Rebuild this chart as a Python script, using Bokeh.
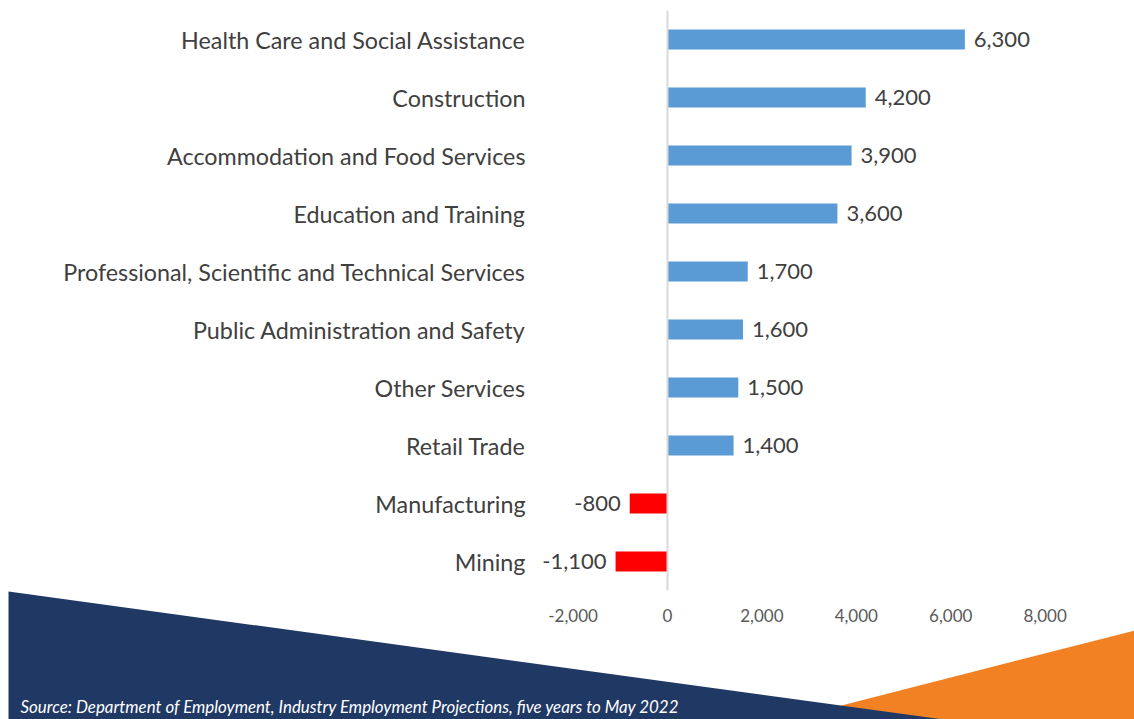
from bokeh.plotting import figure
from bokeh.models import (ColumnDataSource, Range1d, LinearAxis, FixedTicker,
                          NumeralTickFormatter, Label)
from bokeh.core.properties import value
from bokeh.embed import file_html
from bokeh.resources import INLINE

# ---- data (bottom to top) ----
categories = [
    "Mining",
    "Manufacturing",
    "Retail Trade",
    "Other Services",
    "Public Administration and Safety",
    "Professional, Scientific and Technical Services",
    "Education and Training",
    "Accommodation and Food Services",
    "Construction",
    "Health Care and Social Assistance",
]
values = [-1100, -800, 1400, 1500, 1600, 1700, 3600, 3900, 4200, 6300]
x_ticks = [-2000, 0, 2000, 4000, 6000, 8000]
source_note = "Source: Department of Employment, Industry Employment Projections, five years to May 2022"

# ---- geometry (pixels of the figure) ----
W, H = 1134, 719
ZERO_PX = 667.0          # x pixel of value 0
PX_PER_UNIT = 0.0472     # pixels per unit of value
ROW_PX = 58.0            # pixels between category rows
TOP_ROW_PX = 39.0        # pixel (from top) of the top row centre
n = len(categories)

def px_to_x(px):
    return (px - ZERO_PX) / PX_PER_UNIT

def py_to_y(py):
    return (n - 1) - (py - TOP_ROW_PX) / ROW_PX

p = figure(width=W, height=H, output_backend="svg", toolbar_location=None,
           x_range=Range1d(px_to_x(0), px_to_x(W)),
           y_range=Range1d(py_to_y(H), py_to_y(0)),
           x_axis_location=None, y_axis_location=None,
           min_border=0, outline_line_color=None,
           background_fill_color="white", border_fill_color="white")
p.grid.visible = False

# ---- decorative background shapes ----
blue_px = [(8, 591), (943, 719), (8, 719)]
orange_px = [(800, 630 + (W - 800) * 0.256), (W, 630), (W, H), (800, H)]
p.patch([px_to_x(a) for a, b in orange_px], [py_to_y(b) for a, b in orange_px],
        fill_color="#F28123", line_color=None)
p.patch([px_to_x(a) for a, b in blue_px], [py_to_y(b) for a, b in blue_px],
        fill_color="#1F3864", line_color=None)

# ---- bars ----
idx = list(range(n))
colors = ["#FF0000" if v < 0 else "#5B9BD5" for v in values]
labels = [f"{v:,}" for v in values]
src = ColumnDataSource(dict(y=idx, v=values, c=colors, t=labels))
p.hbar(y="y", left=0, right="v", height=0.345, fill_color="c", line_color=None,
       source=src)

pos = ColumnDataSource(dict(y=[i for i, v in zip(idx, values) if v >= 0],
                            v=[v for v in values if v >= 0],
                            t=[t for t, v in zip(labels, values) if v >= 0]))
neg = ColumnDataSource(dict(y=[i for i, v in zip(idx, values) if v < 0],
                            v=[v for v in values if v < 0],
                            t=[t for t, v in zip(labels, values) if v < 0]))
common = dict(text_font=value("Lato"), text_font_size="22px",
              text_color="#404040", text_baseline="middle")
p.text(x="v", y="y", text="t", source=pos, x_offset=9, text_align="left", **common)
p.text(x="v", y="y", text="t", source=neg, x_offset=-9, text_align="right", **common)

# ---- zero line (category axis line) ----
zero_axis = LinearAxis(fixed_location=0, bounds=(-0.5, n - 0.5),
                       ticker=FixedTicker(ticks=[]),
                       axis_line_color="#D9D9D9", axis_line_width=2,
                       major_tick_line_color=None, minor_tick_line_color=None,
                       major_label_text_alpha=0)
p.add_layout(zero_axis, "left")

# ---- category labels ----
cat_axis = LinearAxis(fixed_location=px_to_x(525),
                      ticker=FixedTicker(ticks=idx),
                      major_label_overrides={i: c for i, c in zip(idx, categories)},
                      axis_line_color=None, major_tick_line_color=None,
                      minor_tick_line_color=None, major_tick_out=0, major_tick_in=0,
                      major_label_standoff=0,
                      major_label_text_font="Lato",
                      major_label_text_font_size="23.3px",
                      major_label_text_color="#404040")
p.add_layout(cat_axis, "left")

# ---- value axis ticks ----
val_axis = LinearAxis(fixed_location=py_to_y(606),
                      ticker=FixedTicker(ticks=x_ticks),
                      formatter=NumeralTickFormatter(format="0,0"),
                      axis_line_color=None, major_tick_line_color=None,
                      minor_tick_line_color=None, major_tick_out=0, major_tick_in=0,
                      major_label_standoff=2,
                      major_label_text_font="Lato",
                      major_label_text_font_size="17px",
                      major_label_text_color="#595959")
p.add_layout(val_axis, "below")

# ---- source note ----
p.add_layout(Label(x=20, y=H - 706, x_units="screen", y_units="screen",
                   text=source_note, text_font="Lato", text_font_style="italic",
                   text_font_size="16.9px", text_color="white",
                   text_baseline="middle"))

open("out.html", "w").write(file_html(p, INLINE))
